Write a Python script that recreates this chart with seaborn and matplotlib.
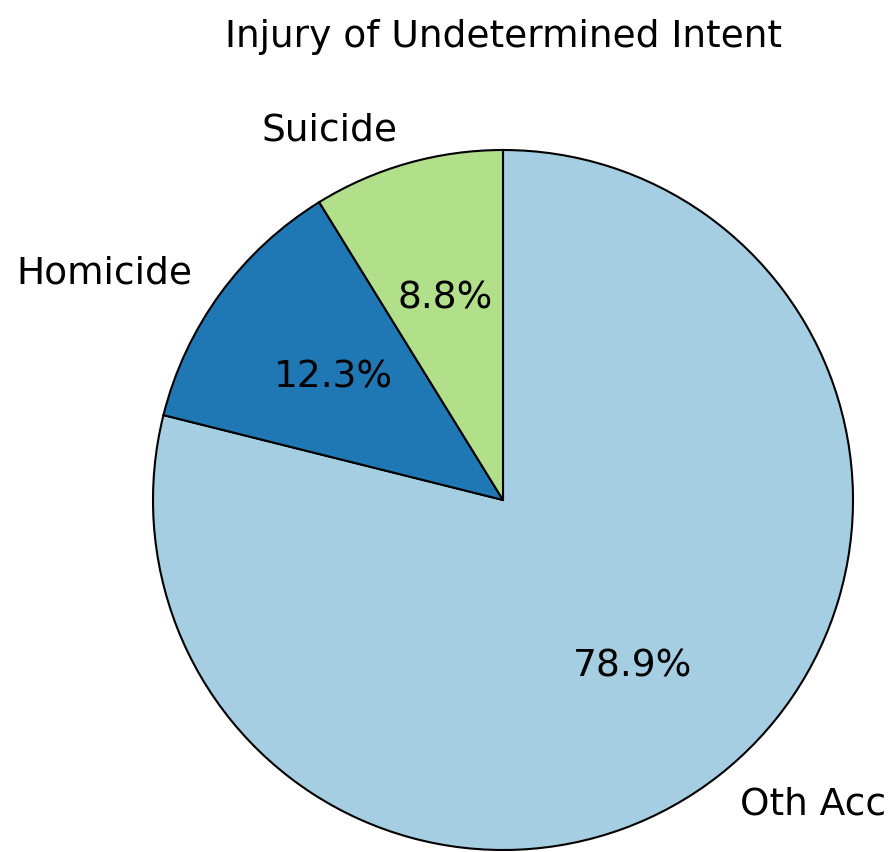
import matplotlib
matplotlib.use("Agg")
import matplotlib.pyplot as plt
import seaborn as sns

labels = ["Oth Acc", "Homicide", "Suicide"]
shares = [78.9, 12.3, 8.8]

sns.set_style("white")
colors = sns.color_palette("Paired", 3)

fig = plt.figure(figsize=(8.93, 8.53), dpi=100)
ax = fig.add_axes([0, 0, 1, 1])

ax.pie(shares, labels=labels, colors=colors, autopct="%1.1f%%",
       startangle=90, counterclock=False,
       wedgeprops={"edgecolor": "black", "linewidth": 1.5},
       textprops={"fontsize": 27, "color": "black"})

# pie centre at (503, 501) px, radius 350 px
ax.set_xlim(-503 / 350, 390 / 350)
ax.set_ylim(-352 / 350, 501 / 350)
ax.set_aspect("equal")
ax.axis("off")

fig.text(503.5 / 893, 1 - 37 / 853, "Injury of Undetermined Intent",
         ha="center", va="center", fontsize=27, color="black")

fig.savefig("out.png", dpi=100)
